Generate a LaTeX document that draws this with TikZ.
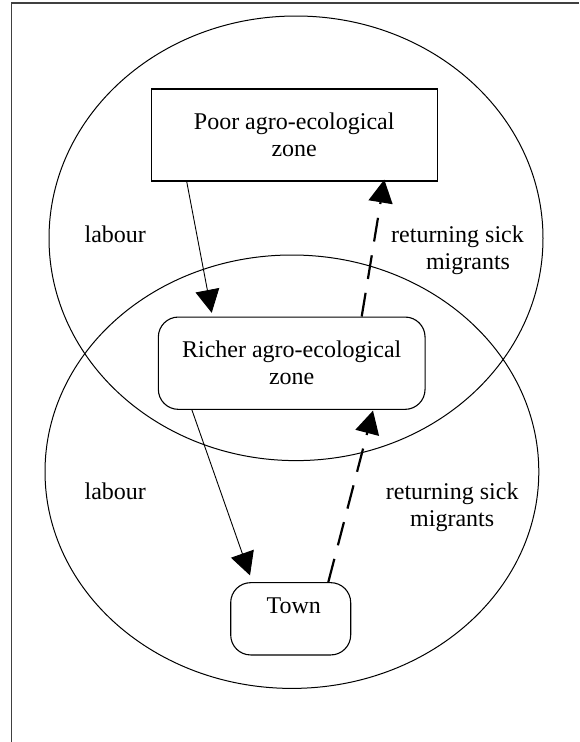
\documentclass[tikz,border=0pt]{standalone}
\usepackage{fontspec}
\setmainfont{Liberation Serif}
\usetikzlibrary{arrows.meta}
\begin{document}
\begin{tikzpicture}[x=1pt,y=-1pt,
  every node/.style={font=\fontsize{24}{27}\selectfont},
  sharpbox/.style={draw,line width=1.1pt,inner sep=0pt,align=center},
  roundbox/.style={sharpbox,rounded corners=20pt},
  labourarrow/.style={line width=0.9pt,-{Triangle[length=23pt,width=24pt]}},
  sickarrow/.style={line width=2.2pt,dash pattern=on 24pt off 14pt,-{Triangle[length=23pt,width=24pt]}},
  zoneellipse/.style={line width=1pt},
  lbltext/.style={align=center}]
\useasboundingbox (0,0) rectangle (579,742);
% frame
\draw[line width=1.2pt,black!75] (11.7,742) -- (11.7,3) -- (579,3);
% ellipses
\draw[zoneellipse] (296,238.3) ellipse [x radius=247pt,y radius=222.3pt];
\draw[zoneellipse] (291.9,471.7) ellipse [x radius=246.9pt,y radius=216.7pt];
% boxes
\node[sharpbox,minimum width=286.3pt,minimum height=92pt] (poor) at (294.2,135) {Poor agro-ecological\\zone};
\node[roundbox,minimum width=266.7pt,minimum height=92.3pt] (richer) at (291.7,363.2) {Richer agro-ecological\\zone};
\node[roundbox,minimum width=120pt,minimum height=72.3pt] (town) at (290.7,618.8) {\hspace*{6pt}Town\\\mbox{}};
% labels
\node[anchor=base] (labA) at (115.3,242.7) {labour};
\node[lbltext] (sickA) at (457.5,250.6) {returning sick\\\hspace*{21pt}migrants};
\node[anchor=base] (labB) at (115.3,499) {labour};
\node[lbltext] (sickB) at (452.2,507.5) {returning sick\\migrants};
% connectors
\draw[labourarrow] ([xshift=-107.5pt]poor.south) -- ([xshift=-80pt,yshift=3.7pt]richer.north);
\draw[sickarrow] ([xshift=70pt]richer.north) -- ([xshift=90.1pt,yshift=2pt]poor.south);
\draw[labourarrow] ([xshift=-99.8pt]richer.south) -- ([xshift=-40.7pt,yshift=6.7pt]town.north);
\draw[sickarrow] ([xshift=37.6pt]town.north) -- ([xshift=81.3pt,yshift=-0.7pt]richer.south);
\end{tikzpicture}
\end{document}
